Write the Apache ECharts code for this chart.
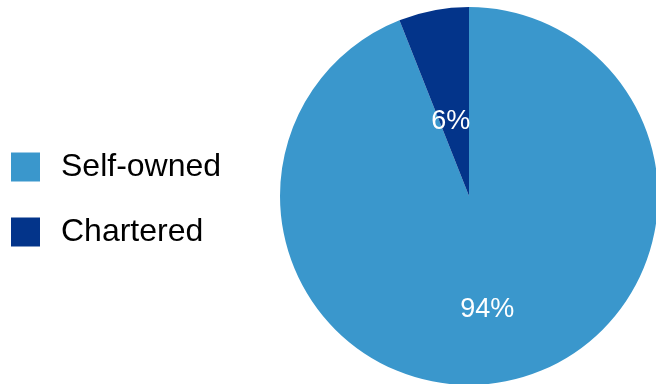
<!DOCTYPE html>
<html>
<head>
<meta charset="utf-8">
<script src="https://cdn.jsdelivr.net/npm/echarts@6/dist/echarts.min.js"></script>
<style>
  html, body { margin: 0; padding: 0; background: #fff; }
  #chart { width: 656px; height: 384px; }
</style>
</head>
<body>
<div id="chart"></div>
<script>
// Fleet composition by ownership type (share of vessels, %)
const categories = ['Self-owned', 'Chartered'];
const shares = [94, 6];
const sliceColors = ['#3A97CC', '#03348A'];

// vertical nudge of each percentage label inside its slice (px)
const labelNudge = [18, 21];

const chart = echarts.init(document.getElementById('chart'), null, { renderer: 'canvas' });

chart.setOption({
  animation: false,
  color: sliceColors,
  legend: {
    orient: 'vertical',
    left: 6,
    top: 146,
    itemWidth: 29,
    itemHeight: 29,
    itemGap: 33,
    icon: 'rect',
    data: categories,
    textStyle: {
      fontFamily: 'Liberation Sans, Arial, sans-serif',
      fontSize: 32,
      color: '#000',
      padding: [6, 0, 0, 16]
    }
  },
  series: [{
    type: 'pie',
    center: [469, 196],
    radius: 189,
    startAngle: 90,
    clockwise: true,
    avoidLabelOverlap: false,
    label: {
      show: true,
      position: 'inside',
      formatter: '{c}%',
      color: '#fff',
      fontFamily: 'Liberation Sans, Arial, sans-serif',
      fontSize: 27
    },
    labelLine: { show: false },
    labelLayout: function (params) {
      return { dy: labelNudge[params.dataIndex] };
    },
    emphasis: { disabled: true },
    data: categories.map((name, i) => ({ name: name, value: shares[i] }))
  }]
});
</script>
</body>
</html>
